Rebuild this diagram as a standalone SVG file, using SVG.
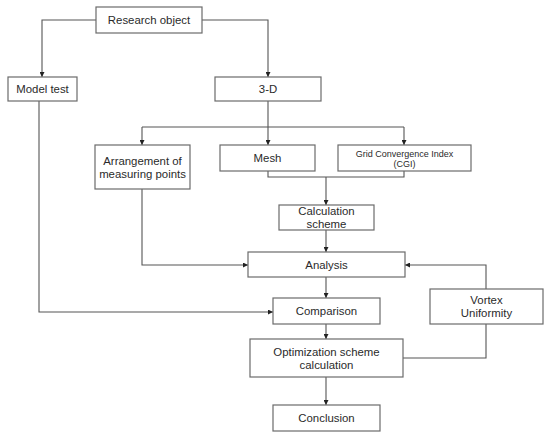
<svg xmlns="http://www.w3.org/2000/svg" width="550" height="438" viewBox="0 0 550 438">
<style>
.box{fill:#fff;stroke:#6b6b6b;stroke-width:1.2}
.t{font-family:"Liberation Sans",Arial,sans-serif;font-size:11.4px;fill:#2a2a2a;text-anchor:middle;dominant-baseline:central}
.s{font-size:9px}
.c{fill:none;stroke:#555;stroke-width:1.1}
</style>
<defs>
<marker id="a" viewBox="0 0 6 6" refX="6" refY="3" markerWidth="5" markerHeight="5" orient="auto" markerUnits="userSpaceOnUse">
<path d="M0,0L6,3L0,6z" fill="#222"/>
</marker>
</defs>
<rect width="550" height="438" fill="#fff"/>
<g id="connectors">
<path class="c" d="M96,20H42V77" marker-end="url(#a)"/>
<path class="c" d="M202,20H268V77" marker-end="url(#a)"/>
<path class="c" d="M268,101V127"/>
<path class="c" d="M142,127H404"/>
<path class="c" d="M142,127V145" marker-end="url(#a)"/>
<path class="c" d="M268,127V145" marker-end="url(#a)"/>
<path class="c" d="M404,127V145" marker-end="url(#a)"/>
<path class="c" d="M268,171V177H404V171"/>
<path class="c" d="M326,177V205" marker-end="url(#a)"/>
<path class="c" d="M326,230V252" marker-end="url(#a)"/>
<path class="c" d="M142,189V265H248" marker-end="url(#a)"/>
<path class="c" d="M486,289V265H405" marker-end="url(#a)"/>
<path class="c" d="M39,101V312H273" marker-end="url(#a)"/>
<path class="c" d="M326,277V298" marker-end="url(#a)"/>
<path class="c" d="M326,324V339" marker-end="url(#a)"/>
<path class="c" d="M486,324V358H403"/>
<path class="c" d="M326,377V405" marker-end="url(#a)"/>
</g>
<g id="research"><rect class="box" x="96" y="7" width="106" height="26"/><text class="t" x="149" y="20">Research object</text></g>
<g id="modeltest"><rect class="box" x="8" y="77" width="69" height="24"/><text class="t" x="42.5" y="89">Model test</text></g>
<g id="threeD"><rect class="box" x="215" y="77" width="106" height="24"/><text class="t" x="268" y="89">3-D</text></g>
<g id="arrangement"><rect class="box" x="95" y="145" width="95" height="44"/><text class="t" x="142.5" y="161">Arrangement of</text><text class="t" x="142.5" y="174">measuring points</text></g>
<g id="mesh"><rect class="box" x="220" y="145" width="95" height="26"/><text class="t" x="267.5" y="158">Mesh</text></g>
<g id="cgi"><rect class="box" x="338" y="145" width="133" height="26"/><text class="t s" x="404.5" y="153.5">Grid Convergence Index</text><text class="t s" x="404.5" y="164">(CGI)</text></g>
<g id="calc"><rect class="box" x="279" y="205" width="95" height="25"/><text class="t" x="326.5" y="211">Calculation</text><text class="t" x="326.5" y="224">scheme</text></g>
<g id="analysis"><rect class="box" x="248" y="252" width="157" height="25"/><text class="t" x="326.5" y="264.5">Analysis</text></g>
<g id="comparison"><rect class="box" x="273" y="298" width="107" height="26"/><text class="t" x="326.5" y="311">Comparison</text></g>
<g id="vortex"><rect class="box" x="430" y="289" width="113" height="35"/><text class="t" x="486.5" y="300">Vortex</text><text class="t" x="486.5" y="313">Uniformity</text></g>
<g id="optimization"><rect class="box" x="250" y="339" width="153" height="38"/><text class="t" x="326.5" y="352">Optimization scheme</text><text class="t" x="326.5" y="365">calculation</text></g>
<g id="conclusion"><rect class="box" x="273" y="405" width="107" height="26"/><text class="t" x="326.5" y="418">Conclusion</text></g>
</svg>
